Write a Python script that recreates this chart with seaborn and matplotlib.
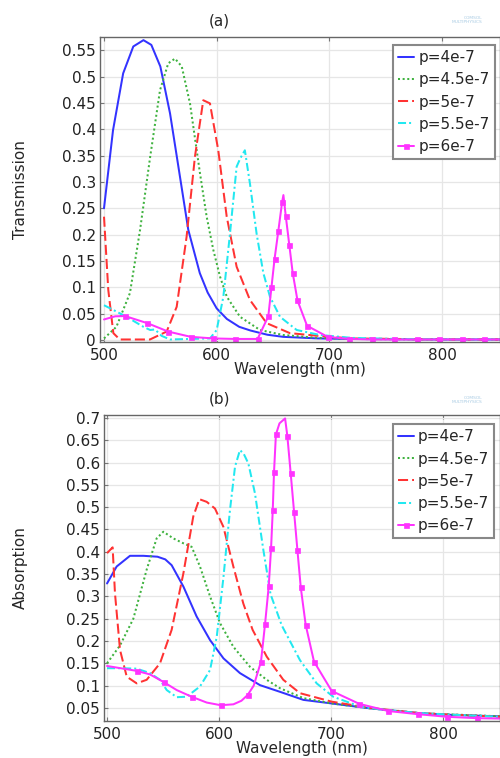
import matplotlib
matplotlib.use('Agg')
import matplotlib.pyplot as plt
import seaborn as sns
from matplotlib.ticker import MultipleLocator, FuncFormatter

labels = ['p=4e-7', 'p=4.5e-7', 'p=5e-7', 'p=5.5e-7', 'p=6e-7']

# (a) Transmission
t_wl_1 = [500, 508, 517, 526, 535, 542, 550, 558.6, 567.4, 574.8, 585, 592, 600, 609, 620, 630, 645, 659, 690, 720, 760, 800, 855]
t_val_1 = [0.25, 0.398, 0.506, 0.557, 0.569, 0.56, 0.519, 0.43, 0.31, 0.209, 0.127, 0.09, 0.06, 0.04, 0.025, 0.018, 0.01, 0.006, 0.003, 0.002, 0.0015, 0.001, 0.001]

t_wl_2 = [500, 511, 523, 532, 541, 549.7, 557, 563, 569, 576.3, 585.2, 591.1, 597, 603, 609, 620.7, 638.4, 659, 690, 720, 760, 800, 855]
t_val_2 = [0.003, 0.025, 0.089, 0.209, 0.348, 0.474, 0.525, 0.534, 0.519, 0.449, 0.316, 0.234, 0.171, 0.12, 0.082, 0.044, 0.019, 0.0095, 0.004, 0.002, 0.0015, 0.001, 0.001]

t_wl_3 = [500, 503.8, 508.3, 514, 540.8, 555.6, 564.5, 573.3, 580.7, 588.1, 594, 601.4, 608.9, 617.7, 629.5, 644.3, 665, 691.7, 720, 760, 800, 855]
t_val_3 = [0.234, 0.095, 0.013, 0.001, 0.001, 0.016, 0.063, 0.196, 0.348, 0.455, 0.449, 0.36, 0.234, 0.139, 0.076, 0.032, 0.013, 0.0076, 0.003, 0.002, 0.001, 0.001]

t_wl_4 = [500, 508.3, 520, 535, 541, 545.3, 551, 558.6, 594, 600, 605.9, 611.8, 617.7, 621, 625, 629.5, 635.4, 641.4, 647.3, 656.2, 671, 691.7, 720, 760, 800, 855]
t_val_4 = [0.066, 0.057, 0.044, 0.025, 0.019, 0.02, 0.008, 0.001, 0.003, 0.019, 0.082, 0.202, 0.329, 0.345, 0.36, 0.297, 0.202, 0.127, 0.082, 0.044, 0.019, 0.0095, 0.004, 0.002, 0.001, 0.001]

t_wl_5 = [500, 510, 518.6, 538.4, 557, 577, 597, 616.5, 636.3, 645.8, 648.6, 651.3, 654.7, 658, 659.2, 661.3, 664.4, 667.4, 671.7, 680.2, 698.5, 717.7, 737.6, 757.4, 777.5, 797.3, 817.5, 837.5, 855]
t_val_5 = [0.039, 0.045, 0.0455, 0.032, 0.016, 0.006, 0.003, 0.002, 0.002, 0.045, 0.1, 0.153, 0.207, 0.261, 0.275, 0.235, 0.181, 0.128, 0.075, 0.027, 0.006, 0.002, 0.001, 0.001, 0.001, 0.001, 0.001, 0.001, 0.001]
t_mark_5 = [0, 0, 1, 1, 1, 1, 1, 1, 1, 1, 1, 1, 1, 1, 0, 1, 1, 1, 1, 1, 1, 1, 1, 1, 1, 1, 1, 1, 0]

# (b) Absorption
a_wl_1 = [500, 508.6, 520.5, 532.4, 545, 552, 557.7, 568.2, 580, 592, 604, 618.7, 636.6, 654.5, 675.3, 700.6, 734.8, 779.5, 810, 852]
a_val_1 = [0.329, 0.367, 0.391, 0.391, 0.389, 0.383, 0.37, 0.322, 0.255, 0.202, 0.161, 0.128, 0.101, 0.086, 0.068, 0.06, 0.049, 0.038, 0.034, 0.031]

a_wl_2 = [500, 511.6, 523.5, 535.4, 544.3, 550.3, 559.2, 568.2, 575.6, 583, 592, 600.9, 612.8, 627.7, 642.6, 654.5, 675.3, 700.6, 735, 780, 852]
a_val_2 = [0.15, 0.19, 0.25, 0.36, 0.43, 0.445, 0.43, 0.419, 0.411, 0.367, 0.3, 0.24, 0.187, 0.142, 0.113, 0.094, 0.072, 0.06, 0.049, 0.038, 0.031]

a_wl_3 = [500, 505, 507.1, 511.6, 517.6, 526.5, 535.4, 547.3, 557.7, 568.2, 577, 582.4, 589, 596.4, 603.9, 612.8, 621.7, 630, 642.6, 657.4, 672.3, 700.6, 735, 780, 852]
a_val_3 = [0.397, 0.41, 0.307, 0.18, 0.12, 0.105, 0.113, 0.15, 0.225, 0.352, 0.479, 0.518, 0.512, 0.497, 0.456, 0.367, 0.284, 0.225, 0.165, 0.113, 0.083, 0.064, 0.05, 0.038, 0.03]

a_wl_4 = [500, 511.6, 526.5, 538.4, 547.3, 553.3, 562.2, 571.1, 583, 592, 598, 604, 609.8, 614.3, 618.7, 622, 626.2, 632.1, 639.6, 646, 656, 672.3, 687.2, 702, 725.9, 746.7, 780, 852]
a_val_4 = [0.139, 0.139, 0.138, 0.128, 0.113, 0.09, 0.074, 0.075, 0.098, 0.135, 0.21, 0.344, 0.494, 0.591, 0.628, 0.62, 0.598, 0.531, 0.404, 0.305, 0.235, 0.157, 0.105, 0.075, 0.053, 0.046, 0.038, 0.03]

a_wl_5 = [500, 526.5, 538.4, 551.2, 562.2, 575.6, 589, 601.5, 612.8, 620, 625.6, 631, 637.5, 641.1, 644.4, 646.5, 648, 649.1, 650.8, 654, 659, 661, 664, 667, 670, 673, 677.4, 684.8, 700.6, 725.3, 751.2, 777.3, 803.8, 830, 852]
a_val_5 = [0.144, 0.133, 0.125, 0.107, 0.09, 0.075, 0.062, 0.056, 0.058, 0.066, 0.079, 0.1, 0.154, 0.238, 0.323, 0.409, 0.494, 0.578, 0.663, 0.688, 0.699, 0.66, 0.576, 0.49, 0.404, 0.32, 0.236, 0.154, 0.088, 0.059, 0.043, 0.036, 0.03, 0.027, 0.026]
a_mark_5 = [0, 1, 0, 1, 0, 1, 0, 1, 0, 0, 1, 0, 1, 1, 1, 1, 1, 1, 1, 0, 0, 1, 1, 1, 1, 1, 1, 1, 1, 1, 1, 1, 1, 1, 0]

colors = ['#3333ff', '#3fb23f', '#ff3333', '#22e8f0', '#ff33ff']
dashes = [None, (1, 1.3), (5, 2), (4, 1.5, 1, 1.5), None]

sns.set_style('whitegrid')
plt.rcParams['font.family'] = ['DejaVu Sans']

fig = plt.figure(figsize=(5, 7.58), dpi=100)
ax_t = fig.add_axes([0.2, 0.5488, 0.8, 0.4024])
ax_a = fig.add_axes([0.208, 0.0488, 0.792, 0.4037])


def draw_panel(ax, series, marks):
    for i, (wl, val) in enumerate(series):
        kw = dict(color=colors[i], lw=1.45, label=labels[i])
        if i == 4:
            kw.update(marker='s', markersize=3.6, markevery=[bool(m) for m in marks],
                      markeredgecolor=colors[i], markeredgewidth=0.5)
        sns.lineplot(x=wl, y=val, ax=ax, sort=False, **kw)
        if dashes[i] is not None:
            ax.get_lines()[-1].set_dashes(dashes[i])


draw_panel(ax_t, [(t_wl_1, t_val_1), (t_wl_2, t_val_2), (t_wl_3, t_val_3),
                  (t_wl_4, t_val_4), (t_wl_5, t_val_5)], t_mark_5)
draw_panel(ax_a, [(a_wl_1, a_val_1), (a_wl_2, a_val_2), (a_wl_3, a_val_3),
                  (a_wl_4, a_val_4), (a_wl_5, a_val_5)], a_mark_5)

ax_t.set_xlim(496.45, 851.4)
ax_t.set_ylim(-0.0038, 0.575)
ax_a.set_xlim(497.3, 850.9)
ax_a.set_ylim(0.0206, 0.7067)

fmt = FuncFormatter(lambda v, p: '%g' % round(v, 2))
for ax, ylab, anchor, lx in [(ax_t, 'Transmission', (0.7325, 0.974), -0.18),
                             (ax_a, 'Absorption', (0.729, 0.9706), -0.192)]:
    ax.xaxis.set_major_locator(MultipleLocator(100))
    ax.yaxis.set_major_locator(MultipleLocator(0.05))
    ax.yaxis.set_major_formatter(fmt)
    ax.grid(True, color='#e6e6e6', lw=0.9)
    for s in ax.spines.values():
        s.set_color('#666666')
        s.set_linewidth(1.0)
    ax.tick_params(direction='in', length=3, width=0.8, color='#777777',
                   labelsize=11, labelcolor='#222222', pad=3,
                   top=True, left=True, bottom=True)
    ax.tick_params(axis='x', pad=4.5)
    ax.set_xlabel('Wavelength (nm)', fontsize=11, labelpad=-1)
    ax.set_ylabel(ylab, fontsize=11)
    ax.yaxis.set_label_coords(lx, 0.5)
    leg = ax.legend(loc='upper left', bbox_to_anchor=anchor, borderaxespad=0,
                    fontsize=11, handlelength=1.05, handletextpad=0.25,
                    labelspacing=0.47, borderpad=0.35, fancybox=False,
                    framealpha=1, edgecolor='#888888')
    leg.get_frame().set_linewidth(1.5)

fig.text(219 / 500, 1 - 21 / 758, '(a)', ha='center', va='center', fontsize=11)
fig.text(219 / 500, 1 - 399 / 758, '(b)', ha='center', va='center', fontsize=11)
for yy in [20, 400]:
    fig.text(0.965, 1 - yy / 758, 'COMSOL\nMULTIPHYSICS', ha='right', va='center',
             fontsize=3.2, color='#a9cbe3', linespacing=0.9)

fig.savefig('out.png', dpi=100)
